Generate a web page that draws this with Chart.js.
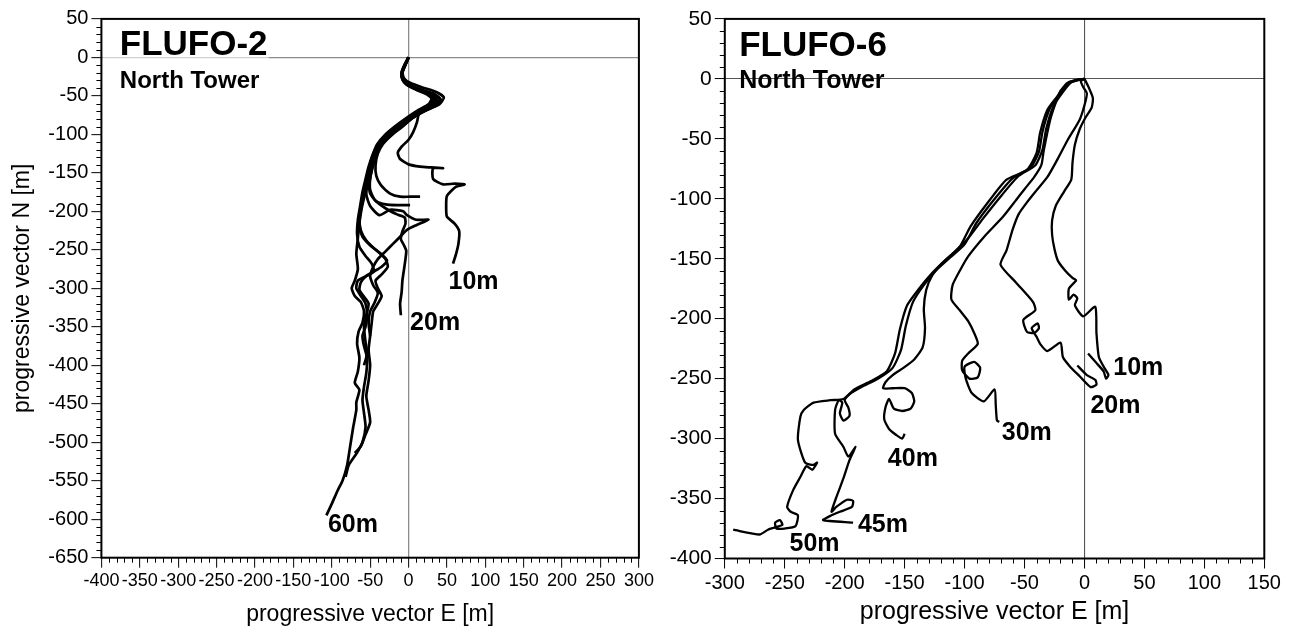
<!DOCTYPE html>
<html>
<head>
<meta charset="utf-8">
<script src="https://cdn.jsdelivr.net/npm/chart.js@4.4.1/dist/chart.umd.min.js"></script>
<style>
  body { margin: 0; background: #fff; }
  #wrap { position: relative; width: 1295px; height: 630px; }
  canvas { position: absolute; top: 0; }
</style>
</head>
<body>
<div id="wrap">
  <canvas id="leftChart" width="660" height="630" style="left:0"></canvas>
  <canvas id="rightChart" width="635" height="630" style="left:660px"></canvas>
</div>
<script>
var FONT = '"Liberation Sans", Arial, Helvetica, sans-serif';

// ---- FLUFO-2 progressive vectors, [E, N] in metres ----
var f2_10m = [[0,0],[-4,-8],[-8,-18],[-6,-27],[2,-33],[18,-39],[36,-45],[46,-52],[40,-61],[26,-66],[14,-72],[11,-84],[6,-97],[0,-107],[-9,-116],[-14,-124],[-11,-132],[0,-139],[15,-142],[30,-143],[45,-144],[32,-144],[32,-158],[45,-165],[60,-164],[73,-165],[62,-168],[50,-180],[49,-195],[50,-207],[60,-216],[66,-226],[65,-242],[62,-255],[58,-268]];
var f2_15m = [[0,0],[-4,-9],[-8,-19],[-7,-28],[-1,-35],[14,-41],[32,-47],[41,-54],[36,-62],[22,-69],[6,-78],[-8,-90],[-22,-101],[-33,-112],[-40,-125],[-43,-140],[-42,-154],[-36,-166],[-24,-177],[-11,-181],[2,-181],[15,-181]];
var f2_20m = [[0,0],[-5,-10],[-9,-20],[-8,-29],[-2,-35],[12,-42],[28,-48],[36,-55],[30,-63],[16,-70],[2,-80],[-12,-92],[-26,-103],[-36,-114],[-43,-128],[-47,-143],[-50,-158],[-50,-172],[-44,-185],[-30,-196],[-15,-204],[-5,-208],[-4,-216],[-8,-226],[-10,-236],[-6,-244],[-3,-251],[-4,-262],[-6,-276],[-8,-290],[-9,-305],[-11,-320],[-10,-335]];
var f2_25m = [[0,0],[-5,-9],[-9,-19],[-8,-28],[-3,-35],[10,-42],[24,-48],[31,-55],[26,-63],[12,-71],[-3,-82],[-17,-94],[-29,-105],[-38,-117],[-44,-131],[-48,-147],[-51,-163],[-50,-177],[-42,-187],[-30,-191],[-15,-192],[2,-192]];
var f2_30m = [[0,0],[-5,-10],[-9,-21],[-7,-30],[-1,-36],[14,-43],[30,-49],[38,-56],[32,-64],[18,-71],[3,-80],[-12,-92],[-26,-104],[-37,-116],[-44,-130],[-49,-146],[-53,-162],[-55,-178],[-50,-193],[-38,-205],[-24,-198],[-7,-200],[-2,-205],[10,-211],[26,-211],[10,-218],[-2,-224],[-11,-233],[-20,-242],[-30,-252],[-40,-262],[-46,-272],[-50,-284],[-46,-296],[-40,-306],[-44,-318],[-50,-330],[-52,-345],[-50,-362]];
var f2_35m = [[0,0],[-4,-10],[-8,-20],[-7,-29],[-1,-35],[16,-42],[34,-48],[42,-55],[36,-63],[20,-70],[5,-79],[-10,-91],[-25,-102],[-36,-114],[-43,-128],[-48,-143],[-53,-158],[-58,-174],[-62,-192],[-64,-210],[-62,-225],[-55,-238],[-45,-248],[-35,-256],[-28,-264],[-35,-272],[-45,-278],[-55,-284],[-62,-292],[-64,-302],[-58,-311],[-52,-320],[-55,-335],[-58,-350],[-56,-370],[-54,-385],[-58,-400]];
var f2_40m = [[0,0],[-4,-9],[-8,-19],[-7,-28],[-2,-34],[12,-41],[27,-47],[35,-54],[30,-62],[15,-70],[0,-80],[-15,-92],[-29,-103],[-39,-115],[-46,-129],[-50,-144],[-53,-158],[-56,-172],[-60,-188],[-63,-204],[-64,-220],[-60,-233],[-50,-244],[-38,-254],[-30,-262],[-27,-272],[-35,-282],[-43,-290],[-40,-300],[-35,-310],[-40,-320],[-46,-330],[-48,-345],[-50,-362],[-52,-380],[-50,-400],[-52,-420],[-55,-440],[-52,-458],[-50,-474],[-56,-490],[-62,-505],[-70,-514]];
var f2_50m = [[0,0],[-4,-8],[-8,-18],[-7,-27],[-3,-34],[8,-40],[22,-46],[30,-53],[26,-61],[12,-69],[-3,-79],[-18,-90],[-31,-101],[-41,-113],[-47,-127],[-52,-142],[-56,-158],[-60,-175],[-63,-193],[-66,-211],[-67,-230],[-64,-246],[-56,-258],[-48,-268],[-45,-278],[-55,-284],[-66,-290],[-68,-300],[-62,-310],[-56,-320],[-54,-335],[-56,-350],[-60,-362],[-58,-375],[-54,-390],[-55,-410],[-58,-428],[-60,-445],[-58,-462],[-56,-480],[-60,-500],[-68,-515],[-78,-530],[-82,-545]];
var f2_60m = [[0,0],[-4,-9],[-8,-19],[-7,-28],[-2,-35],[10,-41],[25,-47],[33,-54],[28,-62],[14,-70],[-1,-80],[-16,-91],[-30,-102],[-40,-114],[-47,-128],[-51,-143],[-54,-160],[-57,-178],[-61,-196],[-64,-215],[-66,-235],[-68,-255],[-66,-275],[-70,-290],[-74,-300],[-70,-310],[-62,-318],[-58,-330],[-60,-345],[-65,-356],[-67,-372],[-64,-390],[-66,-408],[-70,-423],[-64,-432],[-68,-448],[-68,-458],[-72,-480],[-76,-505],[-80,-530],[-86,-550],[-92,-562],[-100,-580],[-107,-595]];
var f2Tracks = [f2_10m, f2_15m, f2_20m, f2_25m, f2_30m, f2_35m, f2_40m, f2_50m, f2_60m];

// depth labels for FLUFO-2 (position of text start, data units)
var f2LabelText = ['10m', '20m', '60m'];
var f2LabelE = [52, 2, -105];
var f2LabelN = [-301, -354, -616];

// ---- FLUFO-6 progressive vectors, [E, N] in metres ----
var f6_10m = [[0,0],[3,-6],[7,-16],[6,-24],[1,-32],[-4,-42],[-8,-55],[-10,-70],[-11,-84],[-17,-94],[-24,-106],[-27,-118],[-27,-130],[-25,-142],[-22,-152],[-16,-160],[-10,-166],[-7,-168],[-13,-175],[-13,-184],[-9,-180],[-6,-183],[-8,-189],[-1,-198],[9,-190],[10,-212],[12,-232],[16,-240],[20,-247],[18,-250],[16,-244],[10,-237],[3,-229]];
var f6_20m = [[0,0],[-3,-2],[-1,-7],[2,-12],[0,-22],[-4,-34],[-14,-51],[-23,-68],[-31,-82],[-40,-93],[-48,-103],[-55,-113],[-60,-126],[-65,-143],[-70,-155],[-57,-170],[-43,-186],[-41,-193],[-51,-201],[-48,-211],[-42,-212],[-38,-208],[-39,-204],[-44,-208],[-40,-215],[-37,-221],[-31,-227],[-20,-220],[-18,-232],[-12,-240],[-4,-248],[5,-257],[10,-255],[9,-251],[2,-247],[-6,-239]];
var f6_30m = [[0,0],[-6,-1],[-14,-4],[-20,-10],[-24,-20],[-28,-32],[-31,-45],[-34,-60],[-36,-72],[-42,-82],[-50,-92],[-57,-101],[-68,-115],[-84,-132],[-97,-148],[-104,-160],[-110,-172],[-111,-184],[-104,-193],[-97,-202],[-92,-212],[-89,-221],[-97,-229],[-102,-235],[-102,-243],[-96,-250],[-89,-249],[-87,-241],[-92,-236],[-100,-240],[-99,-250],[-94,-262],[-84,-269],[-75,-259],[-74,-272],[-73,-285],[-71,-286]];
var f6_40m = [[0,0],[-5,-1],[-11,-3],[-18,-11],[-26,-23],[-32,-42],[-35,-59],[-41,-72],[-55,-81],[-69,-97],[-85,-117],[-97,-133],[-108,-144],[-119,-154],[-127,-164],[-132,-176],[-134,-192],[-133,-208],[-135,-224],[-142,-234],[-151,-241],[-160,-247],[-166,-253],[-168,-258],[-160,-258],[-150,-258],[-144,-262],[-142,-269],[-145,-275],[-152,-277],[-159,-275],[-163,-267],[-166,-274],[-167,-284],[-163,-292],[-157,-297],[-152,-300],[-150,-296]];
var f6_45m = [[0,0],[-6,-1],[-13,-3],[-21,-13],[-29,-25],[-35,-44],[-38,-61],[-45,-74],[-60,-83],[-74,-99],[-90,-120],[-100,-138],[-112,-149],[-124,-160],[-134,-172],[-143,-186],[-149,-206],[-153,-226],[-160,-241],[-172,-250],[-186,-257],[-196,-263],[-200,-268],[-197,-274],[-196,-281],[-201,-285],[-204,-279],[-202,-270],[-205,-268],[-208,-276],[-208,-296],[-201,-307],[-197,-315],[-191,-307],[-196,-318],[-201,-333],[-207,-349],[-211,-361],[-207,-357],[-198,-351],[-193,-352],[-194,-357],[-204,-361],[-211,-364],[-218,-368],[-193,-370]];
var f6_50m = [[0,0],[-8,-1],[-15,-4],[-23,-15],[-31,-26],[-37,-45],[-40,-62],[-48,-76],[-65,-84],[-79,-101],[-95,-123],[-104,-140],[-117,-152],[-128,-163],[-138,-175],[-148,-189],[-154,-209],[-158,-229],[-165,-244],[-178,-252],[-192,-259],[-201,-267],[-212,-268],[-226,-270],[-234,-276],[-237,-282],[-239,-301],[-233,-320],[-226,-322],[-223,-320],[-227,-326],[-232,-323],[-237,-332],[-243,-343],[-248,-357],[-245,-361],[-239,-364],[-241,-373],[-250,-375],[-257,-375],[-258,-370],[-254,-368],[-252,-372],[-264,-376],[-271,-380],[-293,-376]];
var f6Tracks = [f6_10m, f6_20m, f6_30m, f6_40m, f6_45m, f6_50m];

var f6LabelText = ['10m', '20m', '30m', '40m', '45m', '50m'];
var f6LabelE = [24, 5, -69, -164, -189, -246];
var f6LabelN = [-247, -279, -301, -323, -378, -394];

function toPoints(track) {
  return track.map(function(p) { return {x: p[0], y: p[1]}; });
}

// minor ticks, frame, panel title and depth labels
function decorPlugin(cfg) {
  return {
    id: 'decor',
    beforeDatasetsDraw: function(chart) {
      if (!cfg.maskZero) return;
      var ctx = chart.ctx, a = chart.chartArea;
      var x = chart.scales.x, y = chart.scales.y;
      ctx.save();
      ctx.font = 'bold 35px ' + FONT;
      var w = ctx.measureText(cfg.title).width;
      ctx.fillStyle = 'rgba(255,255,255,0.6)';
      ctx.fillRect(a.left + 1, y.getPixelForValue(0) - 2, x.getPixelForValue(cfg.titleE) - a.left + w, 4);
      ctx.restore();
    },
    afterDraw: function(chart) {
      var ctx = chart.ctx, a = chart.chartArea;
      var x = chart.scales.x, y = chart.scales.y;
      ctx.save();
      ctx.strokeStyle = '#000';
      ctx.lineWidth = 1;
      ctx.beginPath();
      for (var v = x.min; v <= x.max; v += 10) {
        if (v % 50 === 0) continue;
        var px = Math.round(x.getPixelForValue(v)) + 0.5;
        ctx.moveTo(px, a.bottom);
        ctx.lineTo(px, a.bottom + 5);
      }
      for (var w = y.min; w <= y.max; w += 10) {
        if (w % 50 === 0) continue;
        var py = Math.round(y.getPixelForValue(w)) + 0.5;
        ctx.moveTo(a.left, py);
        ctx.lineTo(a.left - 5, py);
      }
      ctx.stroke();
      ctx.lineWidth = 2;
      ctx.strokeRect(a.left, a.top, a.right - a.left, a.bottom - a.top);

      ctx.fillStyle = '#000';
      ctx.textAlign = 'left';
      ctx.textBaseline = 'alphabetic';
      ctx.font = 'bold 35px ' + FONT;
      ctx.fillText(cfg.title, x.getPixelForValue(cfg.titleE), y.getPixelForValue(cfg.titleN));
      ctx.font = 'bold ' + cfg.subSize + 'px ' + FONT;
      ctx.fillText('North Tower', x.getPixelForValue(cfg.titleE), y.getPixelForValue(cfg.subN));
      ctx.font = 'bold 25px ' + FONT;
      for (var i = 0; i < cfg.labels.length; i++) {
        ctx.fillText(cfg.labels[i], x.getPixelForValue(cfg.labelE[i]), y.getPixelForValue(cfg.labelN[i]));
      }
      ctx.restore();
    }
  };
}

function makePanel(id, tracks, p) {
  var zeroColor = function(c) {
    return c.tick && c.tick.value === 0 ? p.zeroColor : 'rgba(0,0,0,0)';
  };
  return new Chart(document.getElementById(id), {
    type: 'scatter',
    data: {
      datasets: tracks.map(function(t) {
        return {
          data: toPoints(t),
          showLine: true,
          borderColor: '#000',
          borderWidth: p.lineWidth,
          pointRadius: 0,
          tension: 0.2,
          fill: false
        };
      })
    },
    options: {
      responsive: false,
      animation: false,
      devicePixelRatio: 1,
      layout: { padding: p.padding },
      plugins: { legend: { display: false }, tooltip: { enabled: false } },
      scales: {
        x: {
          type: 'linear', min: p.xMin, max: p.xMax,
          ticks: { stepSize: 50, autoSkip: false, maxRotation: 0, color: '#000', padding: 3,
                   font: { family: FONT, size: p.xTickSize } },
          grid: { color: zeroColor, lineWidth: p.zeroWidth, tickColor: '#000', tickWidth: 1, tickLength: 10 },
          border: { display: false },
          title: { display: true, text: 'progressive vector E [m]', color: '#000',
                   font: { family: FONT, size: p.xTitleSize }, padding: { top: 0, bottom: p.xTitlePad } },
          afterFit: function(s) { s.height = p.xHeight; }
        },
        y: {
          type: 'linear', min: p.yMin, max: p.yMax,
          ticks: { stepSize: 50, autoSkip: false, color: '#000', padding: 3,
                   font: { family: FONT, size: p.yTickSize } },
          grid: { color: zeroColor, lineWidth: p.zeroWidth, tickColor: '#000', tickWidth: 1, tickLength: 10 },
          border: { display: false },
          title: { display: p.yTitle, text: 'progressive vector N [m]', color: '#000',
                   font: { family: FONT, size: 23 }, padding: { top: 9, bottom: 0 } },
          afterFit: function(s) { s.width = p.yWidth; }
        }
      }
    },
    plugins: [decorPlugin(p.decor)]
  });
}

// left panel: FLUFO-2
makePanel('leftChart', f2Tracks, {
  xMin: -400, xMax: 300, yMin: -650, yMax: 50,
  padding: { left: 0, right: 21.1, top: 18.9, bottom: 0 },
  xHeight: 72.3, yWidth: 101.4,
  xTickSize: 18, yTickSize: 20, xTitleSize: 23, xTitlePad: 2, yTitle: true,
  zeroColor: '#8c8c8c', zeroWidth: 1.3, lineWidth: 2.7,
  decor: { title: 'FLUFO-2', titleE: -376, titleN: 3, subN: -40, subSize: 24, maskZero: true,
           labels: f2LabelText, labelE: f2LabelE, labelN: f2LabelN }
});

// right panel: FLUFO-6
makePanel('rightChart', f6Tracks, {
  xMin: -300, xMax: 150, yMin: -400, yMax: 50,
  padding: { left: 0, right: 30.7, top: 18.9, bottom: 0 },
  xHeight: 71.5, yWidth: 64.8,
  xTickSize: 20, yTickSize: 21, xTitleSize: 25, xTitlePad: 3, yTitle: false,
  zeroColor: '#555', zeroWidth: 1.1, lineWidth: 2.3,
  decor: { title: 'FLUFO-6', titleE: -288, titleN: 19, subN: -8, subSize: 25, maskZero: false,
           labels: f6LabelText, labelE: f6LabelE, labelN: f6LabelN }
});
</script>
</body>
</html>
